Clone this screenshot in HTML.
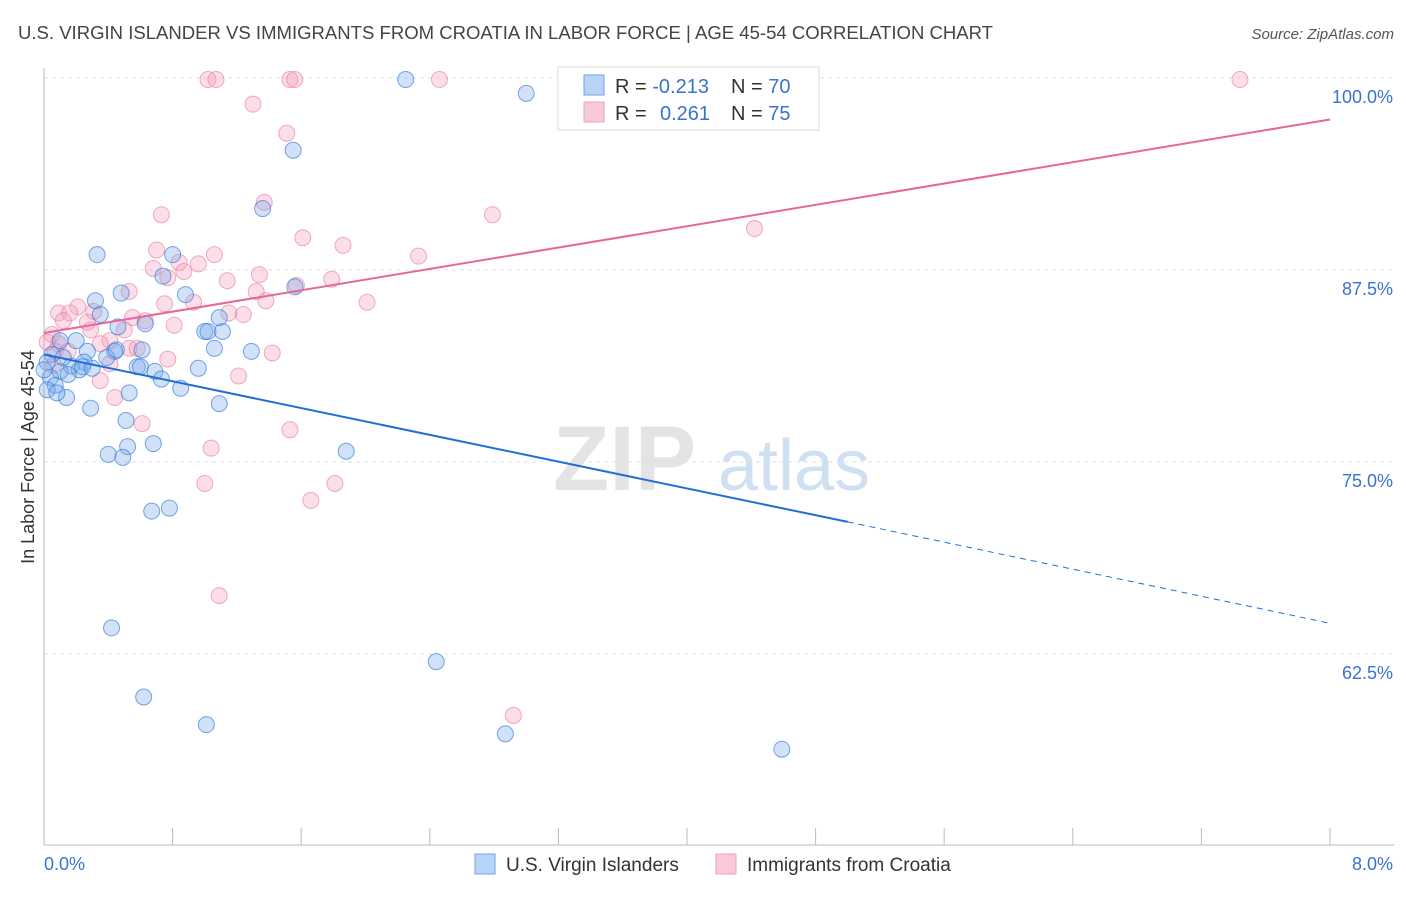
<!DOCTYPE html>
<html><head><meta charset="utf-8"><style>
body{margin:0;background:#fff;font-family:"Liberation Sans",sans-serif}
svg text{font-family:"Liberation Sans",sans-serif}
</style></head><body>
<svg id="chart" width="1406" height="892" xmlns="http://www.w3.org/2000/svg">
<text x="18" y="39" font-size="18" fill="#444" textLength="975" lengthAdjust="spacingAndGlyphs">U.S. VIRGIN ISLANDER VS IMMIGRANTS FROM CROATIA IN LABOR FORCE | AGE 45-54 CORRELATION CHART</text>
<text x="1394" y="39" font-size="15" fill="#555" font-style="italic" text-anchor="end">Source: ZipAtlas.com</text>
<g><text x="553" y="490" font-size="92" fill="#e4e4e4" font-family="Liberation Serif" font-weight="bold">ZIP</text><text x="718" y="490" font-size="72" fill="#cfe0f3">atlas</text></g>
<g id="grid"></g>
<g id="axes"></g>
<g id="pts"></g>
<g id="trends"></g>
<g>
<rect x="558" y="67" width="261" height="63" fill="#fff" stroke="#ddd"/>
<rect x="584" y="75" width="20" height="20" fill="#b8d3f5" stroke="#6fa3e6"/>
<rect x="584" y="102" width="20" height="20" fill="#f9c9d7" stroke="#f0a0ba"/>
<text x="615" y="93" font-size="20" fill="#333">R = <tspan fill="#3a73cf">-0.213</tspan></text>
<text x="731" y="93" font-size="20" fill="#333">N = <tspan fill="#3a73cf">70</tspan></text>
<text x="615" y="120" font-size="20" fill="#333">R = </text><text x="660" y="120" font-size="20" fill="#3a73cf">0.261</text>
<text x="731" y="120" font-size="20" fill="#333">N = <tspan fill="#3a73cf">75</tspan></text>
</g>
<g>
<rect x="475" y="854" width="20" height="20" fill="#b8d3f5" stroke="#6fa3e6"/>
<text x="506" y="871" font-size="19" fill="#333">U.S. Virgin Islanders</text>
<rect x="716" y="854" width="20" height="20" fill="#f9c9d7" stroke="#f0a0ba"/>
<text x="747" y="871" font-size="19" fill="#333">Immigrants from Croatia</text>
</g>
<text transform="translate(34,457) rotate(-90)" font-size="18" fill="#333" text-anchor="middle">In Labor Force | Age 45-54</text>
</svg>
<script>
const yTicks=[100,87.5,75,62.5];
const yTickLabels=["100.0%","87.5%","75.0%","62.5%"];
const xTickLabels=["0.0%","8.0%"];
const blueX=[2.25,3.00,1.55,1.36,0.33,0.80,0.74,0.88,0.48,0.32,0.35,1.56,0.63,0.46,1.00,1.02,1.11,1.09,0.10,0.20,0.27,0.44,0.61,1.06,1.29,0.39,0.05,0.02,0.25,0.17,0.58,0.60,0.69,0.73,0.96,0.10,0.22,0.15,0.04,0.07,0.02,0.85,0.53,0.14,0.08,0.29,1.09,0.51,0.52,0.68,0.40,0.49,1.88,0.78,0.67,0.42,2.44,0.62,1.01,2.87,4.59,0.00,0.24,0.45,0.12,0.30];
const blueY=[99.9,99.0,95.3,91.5,88.5,88.5,87.1,85.9,86.0,85.5,84.6,86.4,84.0,83.8,83.5,83.5,83.5,84.4,82.9,82.9,82.2,82.2,82.3,82.4,82.2,81.8,82.0,81.5,81.5,81.25,81.2,81.2,80.9,80.4,81.1,80.9,81.0,80.7,80.5,80.0,79.7,79.8,79.5,79.2,79.5,78.5,78.8,77.7,76.0,76.2,75.5,75.3,75.7,72.0,71.8,64.2,62.0,59.7,57.9,57.3,56.3,81.0,81.2,82.3,81.8,81.1];
const pinkX=[1.02,1.07,1.53,1.56,2.46,7.44,1.30,1.51,1.37,0.73,2.79,4.42,1.61,1.86,1.06,2.33,0.70,0.96,0.84,0.68,0.87,1.14,1.34,0.77,1.79,1.57,1.32,0.53,0.93,2.01,1.38,0.75,0.21,0.09,0.16,0.31,0.27,0.12,0.55,1.15,1.24,0.63,0.81,0.50,0.41,0.05,0.09,0.35,0.53,0.58,1.42,0.07,0.15,0.41,0.77,1.21,0.35,0.44,0.61,1.04,1.53,1.00,1.81,1.66,1.09,2.92,0.06,0.02,0.29];
const pinkY=[99.9,99.9,99.9,99.9,99.9,99.9,98.3,96.4,91.9,91.1,91.1,90.2,89.6,89.1,88.5,88.4,88.8,87.9,88.0,87.6,87.4,86.8,87.2,87.0,86.9,86.5,86.1,86.1,85.4,85.4,85.5,85.3,85.1,84.7,84.7,84.8,84.1,84.2,84.4,84.7,84.6,84.2,83.9,83.6,82.9,83.3,82.7,82.7,82.4,82.4,82.1,82.2,82.2,81.4,81.7,80.6,80.3,79.2,77.5,75.9,77.1,73.6,73.6,72.5,66.3,58.5,81.3,82.8,83.6];
const blueTrendX=[0,5.0,8];
const blueTrendY=[82.0,71.1,64.5];
const pinkTrendX=[0,8];
const pinkTrendY=[83.4,97.3];

const NS="http://www.w3.org/2000/svg";
const X=v=>44+v/8*1286;
const Y=v=>78+(100-v)/12.5*192;
function mk(tag,attrs,parent){const e=document.createElementNS(NS,tag);for(const k in attrs)e.setAttribute(k,attrs[k]);parent.appendChild(e);return e;}
const grid=document.getElementById('grid'),axes=document.getElementById('axes'),pts=document.getElementById('pts'),tr=document.getElementById('trends');
yTicks.forEach((t,i)=>{
  const l=mk('line',{x1:44,x2:1394,y1:Y(t),y2:Y(t),stroke:'#e2e2e2','stroke-dasharray':'4,4'},grid);
  
  
  const tx=mk('text',{x:1393,y:Y(t)+25,'font-size':18,fill:'#3a73cf','text-anchor':'end'},axes);
  tx.textContent=yTickLabels[i];
  
  
});
mk('line',{x1:44,x2:44,y1:68,y2:845,stroke:'#bbb'},axes);
mk('line',{x1:44,x2:1394,y1:845,y2:845,stroke:'#bbb'},axes);
for(let i=0;i<=10;i++){const t=mk('line',{x1:X(i*0.8),x2:X(i*0.8),y1:828,y2:845,stroke:'#bbb'},axes);
  
  }
const xl0=mk('text',{x:44,y:870,'font-size':18,fill:'#3a73cf'},axes);xl0.textContent=xTickLabels[0];


const xl1=mk('text',{x:1393,y:870,'font-size':18,fill:'#3a73cf','text-anchor':'end'},axes);xl1.textContent=xTickLabels[1];


pinkX.forEach((v,i)=>{const c=mk('circle',{cx:X(v),cy:Y(pinkY[i]),r:8,fill:'rgba(244,160,186,0.35)',stroke:'rgba(232,120,156,0.6)','stroke-width':1},pts);
  
  });
blueX.forEach((v,i)=>{const c=mk('circle',{cx:X(v),cy:Y(blueY[i]),r:8,fill:'rgba(120,170,235,0.35)',stroke:'rgba(50,120,215,0.65)','stroke-width':1},pts);
  
  });
const b1=mk('line',{x1:X(blueTrendX[0]),y1:Y(blueTrendY[0]),x2:X(blueTrendX[1]),y2:Y(blueTrendY[1]),stroke:'#1f6fd6','stroke-width':2},tr);


const b2=mk('line',{x1:X(blueTrendX[1]),y1:Y(blueTrendY[1]),x2:X(blueTrendX[2]),y2:Y(blueTrendY[2]),stroke:'#1f6fd6','stroke-width':1,'stroke-dasharray':'6,5'},tr);


const p1=mk('line',{x1:X(pinkTrendX[0]),y1:Y(pinkTrendY[0]),x2:X(pinkTrendX[1]),y2:Y(pinkTrendY[1]),stroke:'#e8679a','stroke-width':2},tr);


</script>
</body></html>
